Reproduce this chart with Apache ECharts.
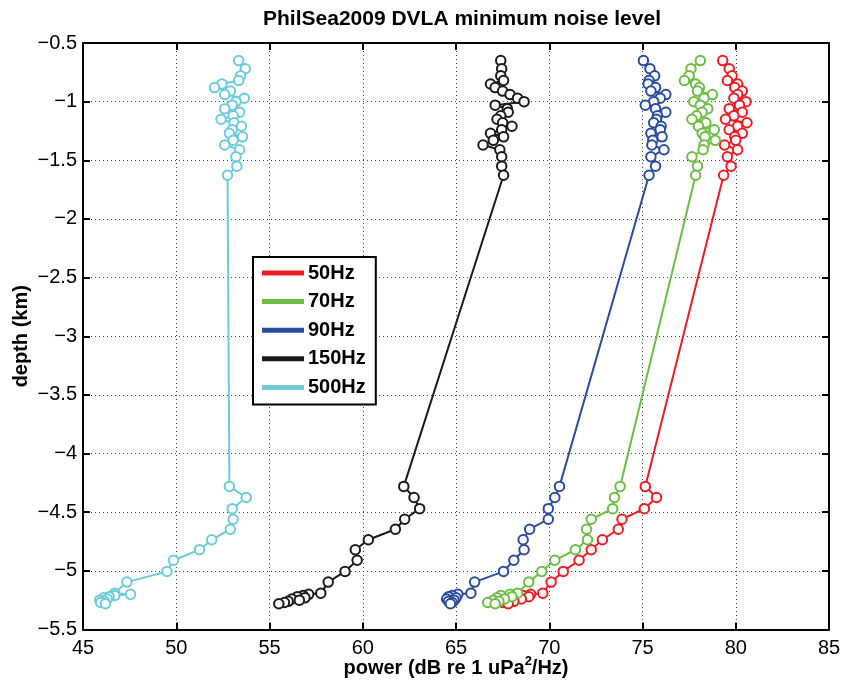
<!DOCTYPE html>
<html>
<head>
<meta charset="utf-8">
<script src="https://cdn.jsdelivr.net/npm/echarts@6/dist/echarts.min.js"></script>
<style>html,body{margin:0;padding:0;background:#fff}#c{width:841px;height:688px}</style>
</head>
<body>
<div id="c"></div>
<script>
// depths (km), shared by all frequencies
var depths = [-0.65, -0.72, -0.78, -0.82, -0.85, -0.88, -0.91, -0.94, -0.97, -1.00,
  -1.03, -1.06, -1.09, -1.12, -1.15, -1.18, -1.21, -1.24, -1.27, -1.30,
  -1.33, -1.37, -1.41, -1.47, -1.55, -1.627,
  -4.28, -4.375, -4.47, -4.56, -4.645, -4.735, -4.82, -4.91, -5.005, -5.096,
  -5.19, -5.20, -5.21, -5.22, -5.23, -5.24, -5.25, -5.26, -5.27, -5.28];

var p50 = [79.3, 79.65, 79.8, 79.55, 80.1, 79.95, 80.35, 80.1, 79.9, 80.55,
  80.2, 79.65, 80.35, 79.9, 79.45, 80.6, 80.1, 79.65, 80.35, 79.95,
  80.0, 79.4, 80.1, 79.55, 79.75, 79.35,
  75.15, 75.75, 75.1, 73.9, 73.7, 72.85, 72.25, 71.6, 70.75, 70.1,
  69.65, 69.0, 68.6, 68.9, 68.2, 68.5, 67.9, 68.1, 67.5, 67.8];

var p70 = [78.1, 77.6, 77.5, 77.25, 77.85, 78.05, 77.95, 78.75, 78.3, 77.75,
  78.1, 78.5, 78.2, 77.9, 77.65, 78.4, 78.0, 78.85, 78.2, 78.35,
  78.9, 78.3, 78.25, 77.65, 77.95, 77.85,
  73.8, 73.5, 73.4, 72.25, 72.0, 72.05, 71.4, 70.3, 69.6, 68.9,
  68.3, 67.9, 67.4, 68.0, 67.2, 67.6, 67.0, 67.3, 66.7, 67.1];

var p90 = [75.05, 75.4, 75.65, 75.35, 75.3, 75.7, 75.45, 76.25, 75.95, 75.6,
  75.15, 75.7, 76.25, 75.8, 75.75, 75.6, 76.0, 75.95, 75.45, 76.05,
  75.55, 75.5, 76.15, 75.45, 75.7, 75.35,
  70.55, 70.3, 69.95, 69.95, 68.95, 68.6, 68.65, 68.1, 67.55, 66.0,
  65.8, 65.1, 64.8, 64.6, 65.0, 64.5, 64.9, 64.6, 64.8, 64.7];

var p150 = [67.4, 67.45, 67.4, 67.55, 66.85, 67.1, 67.5, 67.9, 68.3, 68.65,
  67.1, 67.75, 67.8, 67.4, 67.2, 67.5, 68.0, 67.45, 66.85, 67.55,
  67.0, 66.45, 67.35, 67.45, 67.45, 67.55,
  62.2, 62.75, 63.05, 62.25, 61.75, 60.3, 59.6, 59.7, 59.05, 58.15,
  57.75, 57.1, 56.8, 56.5, 56.9, 56.2, 56.6, 56.0, 55.8, 55.5];

var p500 = [53.35, 53.7, 53.45, 53.35, 52.45, 52.05, 52.9, 52.6, 53.65, 53.2,
  53.0, 52.6, 53.4, 53.05, 52.4, 53.1, 53.5, 53.0, 52.85, 53.55,
  53.05, 52.6, 53.4, 53.2, 53.25, 52.75,
  52.85, 53.75, 53.0, 53.05, 52.9, 51.9, 51.25, 49.85, 49.5, 47.35,
  46.7, 47.55, 46.7, 46.4, 46.1, 46.3, 45.9, 46.15, 45.95, 46.2];

var seriesNames = ['50Hz', '70Hz', '90Hz', '150Hz', '500Hz'];
var seriesColors = ['#ec1c24', '#6cbd45', '#2b4c9e', '#1a1a1a', '#6dcbd9'];
var seriesValues = [p50, p70, p90, p150, p500];

var xTicks = {min: 45, max: 85, interval: 5};
var yTicks = {min: -5.5, max: -0.5, interval: 0.5};

function pairs(vals) {
  return vals.map(function (v, i) { return [v, depths[i]]; });
}
function minusFmt(v) { return String(v).replace('-', '\u2212'); }

var FONT = 'Liberation Sans, Arial, Helvetica, sans-serif';
var gridLine = {show: true, lineStyle: {color: '#444', type: [1, 3], width: 1}};
var nameStyle = {fontFamily: FONT, fontWeight: 'bold', fontSize: 20, color: '#000'};

var chart = echarts.init(document.getElementById('c'), null, {renderer: 'canvas'});
chart.setOption({
  backgroundColor: '#fff',
  animation: false,
  title: {
    text: 'PhilSea2009 DVLA minimum noise level',
    left: 457, top: 4, textAlign: 'center',
    textStyle: {fontFamily: FONT, fontWeight: 'bold', fontSize: 21, color: '#000'}
  },
  legend: {
    orient: 'vertical', left: 253, top: 257,
    data: seriesNames,
    icon: 'rect', itemWidth: 40, itemHeight: 3, itemGap: 8.6,
    padding: [6, 10, 7, 9],
    borderColor: '#000', borderWidth: 2, backgroundColor: '#fff',
    textStyle: {fontFamily: FONT, fontWeight: 'bold', fontSize: 20, color: '#000', lineHeight: 20}
  },
  grid: {left: 83, right: 12, top: 43, bottom: 58.5, outerBoundsMode: 'none', containLabel: false},
  xAxis: [{
    type: 'value', min: xTicks.min, max: xTicks.max, interval: xTicks.interval,
    name: '{n|power (dB re 1 uPa}{s|2}{n|/Hz)}', nameLocation: 'middle', nameGap: 25,
    nameMoveOverlap: false,
    nameTextStyle: {
      fontFamily: FONT, fontWeight: 'bold', fontSize: 20, color: '#000',
      rich: {
        n: {fontFamily: FONT, fontWeight: 'bold', fontSize: 20, color: '#000', verticalAlign: 'bottom', lineHeight: 24},
        s: {fontFamily: FONT, fontWeight: 'bold', fontSize: 13, color: '#000', verticalAlign: 'top', lineHeight: 24}
      }
    },
    axisLine: {show: true, onZero: false, lineStyle: {color: '#000', width: 2}},
    axisTick: {show: true, inside: true, length: 7, lineStyle: {color: '#000', width: 2}},
    axisLabel: {fontFamily: FONT, fontSize: 20, color: '#000', margin: 9},
    splitLine: gridLine
  }, {
    type: 'value', position: 'top', min: xTicks.min, max: xTicks.max, interval: xTicks.interval,
    axisLine: {show: true, onZero: false, lineStyle: {color: '#000', width: 2}},
    axisTick: {show: true, inside: true, length: 7, lineStyle: {color: '#000', width: 2}},
    axisLabel: {show: false}, splitLine: {show: false}
  }],
  yAxis: [{
    type: 'value', min: yTicks.min, max: yTicks.max, interval: yTicks.interval,
    name: 'depth (km)', nameLocation: 'middle', nameGap: 52, nameRotate: 90,
    nameMoveOverlap: false,
    nameTextStyle: nameStyle,
    axisLine: {show: true, onZero: false, lineStyle: {color: '#000', width: 2}},
    axisTick: {show: true, inside: true, length: 7, lineStyle: {color: '#000', width: 2}},
    axisLabel: {fontFamily: FONT, fontSize: 20, color: '#000', margin: 6, formatter: minusFmt},
    splitLine: gridLine
  }, {
    type: 'value', position: 'right', min: yTicks.min, max: yTicks.max, interval: yTicks.interval,
    axisLine: {show: true, onZero: false, lineStyle: {color: '#000', width: 2}},
    axisTick: {show: true, inside: true, length: 7, lineStyle: {color: '#000', width: 2}},
    axisLabel: {show: false}, splitLine: {show: false}
  }],
  series: seriesNames.map(function (n, k) {
    return {
      name: n, type: 'line', xAxisIndex: 0, yAxisIndex: 0,
      data: pairs(seriesValues[k]),
      color: seriesColors[k],
      symbol: 'emptyCircle', symbolSize: 9.5, showAllSymbol: true,
      lineStyle: {width: 2, color: seriesColors[k]},
      itemStyle: {color: seriesColors[k], borderWidth: 2.3, borderColor: seriesColors[k]},
      emphasis: {disabled: true}
    };
  })
});
</script>
</body>
</html>
